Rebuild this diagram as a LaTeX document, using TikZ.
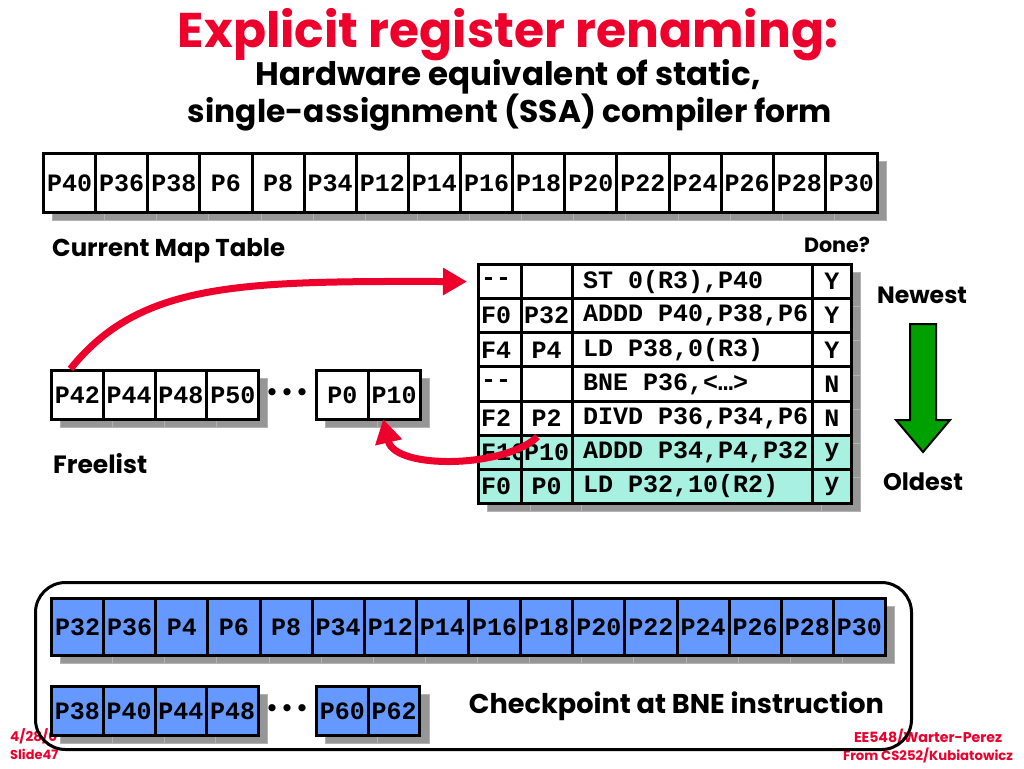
\documentclass[tikz,border=0pt]{standalone}
\usepackage{fontspec}
\setmainfont{Poppins}
\newfontfamily\mono{Liberation Mono}
\usetikzlibrary{arrows.meta,shadows}
\definecolor{sred}{RGB}{238,0,45}
\definecolor{sblue}{RGB}{102,153,255}
\definecolor{steal}{RGB}{168,240,224}
\definecolor{sgreen}{RGB}{0,160,0}
\definecolor{shgray}{RGB}{150,150,150}
\definecolor{shline}{RGB}{178,178,178}
\newcommand{\fitw}[2]{\resizebox{#1}{!}{#2}}
\tikzset{
  cell/.style={draw=black, line width=3pt, fill=white, inner sep=0pt,
    font=\mono\bfseries\fontsize{25}{25}\selectfont,
    drop shadow={shadow xshift=9pt, shadow yshift=-8pt, fill=shgray, draw=shline, line width=0.8pt, opacity=1}},
  mapcell/.style={cell, minimum width=52.125pt, minimum height=59pt},
  flcell/.style={cell, minimum width=51.8pt, minimum height=49pt},
  bcellA/.style={cell, fill=sblue, minimum width=52.125pt, minimum height=57pt},
  bcellB/.style={cell, fill=sblue, minimum width=51.75pt, minimum height=49pt},
  robcell/.style={cell, minimum height=34.14pt},
  dotsnode/.style={inner sep=0pt, font=\mono\bfseries\fontsize{25}{25}\selectfont},
  lbl/.style={inner sep=0pt, font=\bfseries\fontsize{22}{22}\selectfont},
  foot/.style={inner sep=0pt, text=sred, font=\bfseries\fontsize{13}{13}\selectfont},
  redarrow/.style={draw=sred, line width=7pt, -{Triangle[length=24pt,width=26pt]}},
}
\begin{document}
\begin{tikzpicture}[x=1pt,y=-1pt]
\useasboundingbox (0,0) rectangle (1024,768);
\fill[white] (0,0) rectangle (1024,768);

% titles
\node[inner sep=0pt, anchor=base, text=sred, font=\bfseries\fontsize{50}{50}\selectfont] (title) at (508,47) {\fitw{660pt}{Explicit register renaming:}};
\node[inner sep=0pt, anchor=base, font=\bfseries\fontsize{28}{28}\selectfont] (sub1) at (508,85) {\fitw{505pt}{Hardware equivalent of static,}};
\node[inner sep=0pt, anchor=base, font=\bfseries\fontsize{28}{28}\selectfont] (sub2) at (510,122) {\fitw{644pt}{single-assignment (SSA) compiler form}};

% footers (drawn first, covered by later shapes)
\node[foot, anchor=base west] (fdate) at (10,741) {\fitw{47pt}{4/28/0}};
\node[foot, anchor=base west] (fslide) at (10,759) {\fitw{48pt}{Slide47}};
\node[foot, anchor=base] (fee) at (928,742) {\fitw{148pt}{EE548/Warter-Perez}};
\node[foot, anchor=base] (fcs) at (928,760) {\fitw{170pt}{From CS252/Kubiatowicz}};

% current map table
\foreach \v [count=\i] in {P40,P36,P38,P6,P8,P34,P12,P14,P16,P18,P20,P22,P24,P26,P28,P30}
  \node[mapcell] (m\i) at ({69.56+52.125*(\i-1)},183) {\v};
\node[lbl, anchor=base west] (maplbl) at (52,256) {\fitw{233pt}{Current Map Table}};

% freelist
\foreach \v [count=\i] in {P42,P44,P48,P50}
  \node[flcell] (f\i) at ({77.4+51.8*(\i-1)},395) {\v};
\node[dotsnode] (fdots) at (287,395) {•••};
\node[flcell] (f5) at (342.4,395) {P0};
\node[flcell] (f6) at (394.2,395) {P10};
\node[lbl, anchor=base west] (fllbl) at (53,473) {\fitw{94pt}{Freelist}};

% reorder buffer
\foreach \a/\b/\c/\d/\f [count=\r] in {
  -{}-/{}/{ST 0(R3),P40}/Y/white,
  F0/P32/{ADDD P40,P38,P6}/Y/white,
  F4/P4/{LD P38,0(R3)}/Y/white,
  -{}-/{}/{BNE P36,<…>}/N/white,
  F2/P2/{DIVD P36,P34,P6}/N/white,
  F10/P10/{ADDD P34,P4,P32}/y/steal,
  F0/P0/{LD P32,10(R2)}/y/steal}
{
  \pgfmathsetmacro\yy{264.5+34.14*(\r-0.5)}
  \node[robcell, fill=\f, minimum width=42.5pt, inner xsep=2.5pt] (r\r-1) at (499.75,\yy) {\makebox[37.5pt][l]{\a}};
  \node[robcell, fill=\f, minimum width=51pt] (r\r-2) at (546.5,\yy) {\b};
  \node[robcell, fill=\f, minimum width=240pt, inner xsep=11pt] (r\r-3) at (692,\yy) {\makebox[218pt][l]{\c}};
  \node[robcell, fill=\f, minimum width=39.5pt] (r\r-4) at (831.75,\yy) {\d};
}
\node[lbl, anchor=base] (donelbl) at (837,252) {\fitw{66pt}{Done?}};
\node[lbl, anchor=base] (newlbl) at (922,303) {\fitw{90pt}{Newest}};
\node[lbl, anchor=base] (oldlbl) at (923,490) {\fitw{80pt}{Oldest}};

% green age arrow
\filldraw[fill=sgreen, draw=black, line width=2pt, line join=miter]
  (910,324) -- (936,324) -- (936,420) -- (950,420) -- (923,452) -- (896,420) -- (910,420) -- cycle;

% red arrows
\draw[redarrow] ([xshift=-7pt]f1.north) .. controls (140,282) and (240,281) .. ([xshift=-10pt]r1-1.west);
\draw[redarrow] ([xshift=-9pt,yshift=-3pt]r6-2.north) .. controls (505,468) and (395,470) .. ([xshift=-11pt,yshift=2pt]f6.south);

% checkpoint box
\node[draw=black, line width=3pt, rounded corners=30pt, minimum width=876pt, minimum height=167pt, inner sep=0pt] (ckbox) at (473.5,666) {};
\foreach \v [count=\i] in {P32,P36,P4,P6,P8,P34,P12,P14,P16,P18,P20,P22,P24,P26,P28,P30}
  \node[bcellA] (b\i) at ({77.56+52.125*(\i-1)},627) {\v};
\foreach \v [count=\i] in {P38,P40,P44,P48}
  \node[bcellB] (c\i) at ({77.4+51.75*(\i-1)},711) {\v};
\node[dotsnode] (cdots) at (287,711) {•••};
\node[bcellB] (c5) at (342.4,711) {P60};
\node[bcellB] (c6) at (394.1,711) {P62};
\node[lbl, anchor=base] (cklbl) at (676.5,713) {\fitw{415pt}{Checkpoint at BNE instruction}};
\end{tikzpicture}
\end{document}
